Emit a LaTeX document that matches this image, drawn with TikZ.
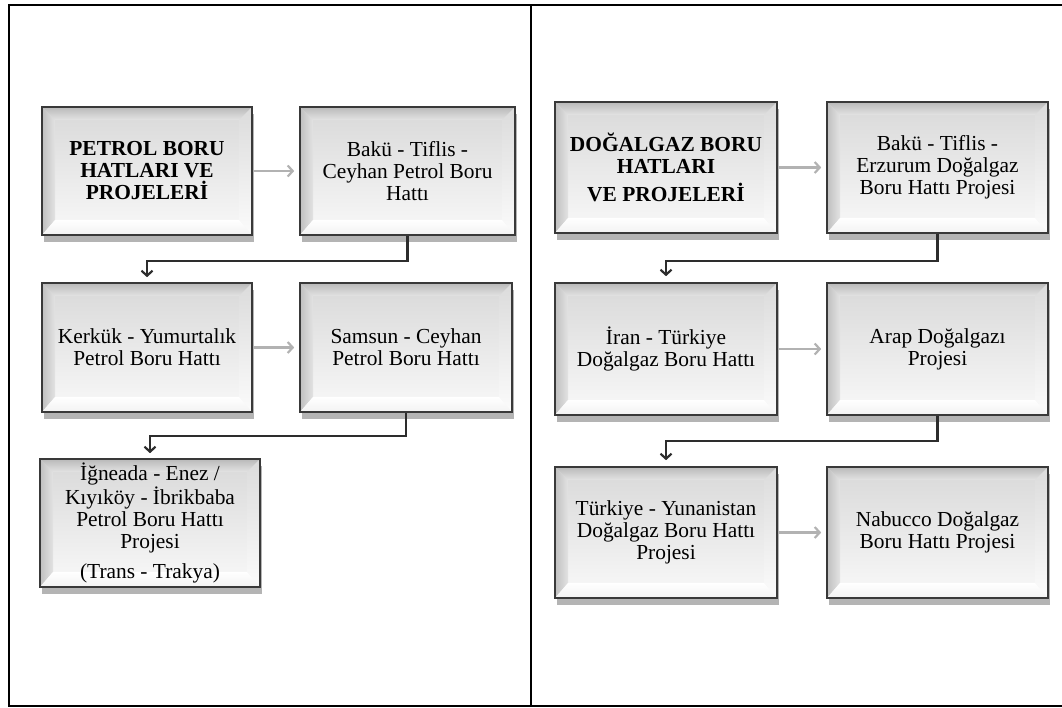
\documentclass[tikz,border=0pt]{standalone}
\usepackage{fontspec}
\setmainfont{Liberation Serif}
\usetikzlibrary{arrows.meta,calc,shadows}
\tikzset{
  bx/.style={draw=gray!45!black, line width=1.6pt, align=center, inner sep=0pt,
    font=\fontsize{21.4}{22}\selectfont, text=black,
    drop shadow={shadow xshift=2pt, shadow yshift=-7pt, opacity=0.45, fill=gray!70!black},
    top color=gray!30, bottom color=gray!5,
    path picture={
      \coordinate (nw) at (path picture bounding box.north west);
      \coordinate (ne) at (path picture bounding box.north east);
      \coordinate (sw) at (path picture bounding box.south west);
      \coordinate (se) at (path picture bounding box.south east);
      \shade[top color=gray!55, bottom color=gray!22] (nw) -- (ne) -- ($(ne)+(-13pt,-13pt)$) -- ($(nw)+(13pt,-13pt)$) -- cycle;
      \shade[left color=gray!50, right color=gray!22] (nw) -- ($(nw)+(13pt,-13pt)$) -- ($(sw)+(13pt,15pt)$) -- (sw) -- cycle;
      \shade[top color=gray!28, bottom color=gray!3] (ne) -- ($(ne)+(-13pt,-13pt)$) -- ($(se)+(-13pt,15pt)$) -- (se) -- cycle;
      \shade[top color=white, bottom color=gray!10] (sw) -- ($(sw)+(13pt,15pt)$) -- ($(se)+(-13pt,15pt)$) -- (se) -- cycle;
      \draw[gray!60!black, line width=2pt] (ne) -- (se);
    }},
  harr/.style={draw=gray!60, line width=2.2pt, -{Straight Barb[length=5pt,width=11pt]}},
  elb/.style={draw=gray!35!black, line width=2.2pt, -{Straight Barb[length=5pt,width=11pt]}},
  frame/.style={line width=1.6pt, black}
}
\begin{document}
\begin{tikzpicture}[x=1pt,y=-1pt]
\useasboundingbox (0,0) rectangle (1062,707);
% table frame
\draw[frame] (1062,5) -- (9,5) -- (9,706) -- (1062,706);
\draw[frame] (531,5) -- (531,706);

% left column
\node[bx, minimum width=210pt, minimum height=128pt] (p1) at (147,171)
  {\textbf{PETROL BORU}\\\textbf{HATLARI VE}\\\textbf{PROJELERİ}};
\node[bx, minimum width=215pt, minimum height=128pt] (p2) at (407.5,171)
  {Bakü - Tiflis -\\Ceyhan Petrol Boru\\Hattı};
\node[bx, minimum width=210pt, minimum height=129pt] (p3) at (147,347.5)
  {Kerkük - Yumurtalık\\Petrol Boru Hattı};
\node[bx, minimum width=212pt, minimum height=129pt] (p4) at (406,347.5)
  {Samsun - Ceyhan\\Petrol Boru Hattı};
\node[bx, minimum width=220pt, minimum height=128pt] (p5) at (150,523)
  {İğneada - Enez /\\Kıyıköy - İbrikbaba\\Petrol Boru Hattı\\Projesi\\[8pt](Trans - Trakya)};

\draw[harr] (p1.east) -- ($(p2.west)+(-5,0)$);
\draw[harr] (p3.east) -- ($(p4.west)+(-5,0)$);
\draw[elb] (p2.south) -- ++(0,25) -| ($(p3.north)+(0,-5)$);
\draw[elb] (p4.south) -- ++(0,23) -| ($(p5.north)+(0,-5)$);

% right column
\node[bx, minimum width=222pt, minimum height=131pt] (g1) at (666,167.5)
  {\textbf{DOĞALGAZ BORU}\\\textbf{HATLARI}\\[6pt]\textbf{VE PROJELERİ}};
\node[bx, minimum width=221pt, minimum height=131pt] (g2) at (937.5,167.5)
  {Bakü - Tiflis -\\Erzurum Doğalgaz\\Boru Hattı Projesi};
\node[bx, minimum width=222pt, minimum height=132pt] (g3) at (666,349)
  {İran - Türkiye\\Doğalgaz Boru Hattı};
\node[bx, minimum width=221pt, minimum height=132pt] (g4) at (937.5,349)
  {Arap Doğalgazı\\Projesi};
\node[bx, minimum width=222pt, minimum height=131pt] (g5) at (666,532.5)
  {Türkiye - Yunanistan\\Doğalgaz Boru Hattı\\Projesi};
\node[bx, minimum width=221pt, minimum height=131pt] (g6) at (937.5,532.5)
  {Nabucco Doğalgaz\\Boru Hattı Projesi};

\draw[harr] (g1.east) -- ($(g2.west)+(-5,0)$);
\draw[harr] (g3.east) -- ($(g4.west)+(-5,0)$);
\draw[harr] (g5.east) -- ($(g6.west)+(-5,0)$);
\draw[elb] (g2.south) -- ++(0,27) -| ($(g3.north)+(0,-6)$);
\draw[elb] (g4.south) -- ++(0,25) -| ($(g5.north)+(0,-6)$);
\end{tikzpicture}
\end{document}
